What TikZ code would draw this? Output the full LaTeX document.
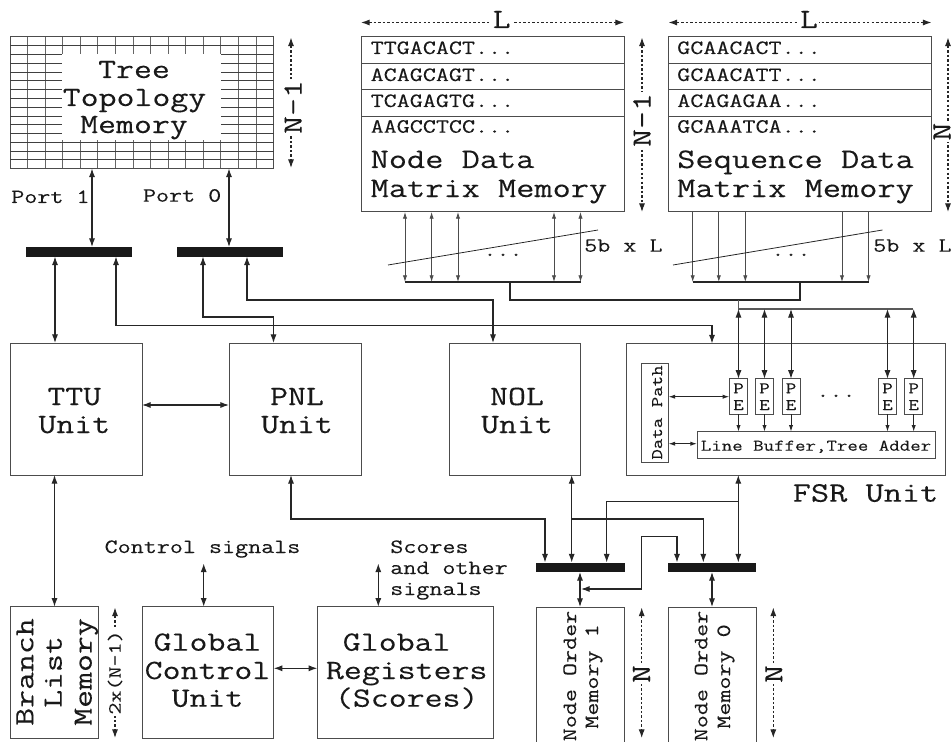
\documentclass[tikz,border=0pt]{standalone}
\usepackage{fontspec}
\setmonofont[FakeStretch=1.25,FakeBold=0.15]{Latin Modern Mono}
\usetikzlibrary{arrows.meta}
\newcommand\tf[1]{\fontsize{#1}{#1}\selectfont\ttfamily}
\newcommand\bx[7][]{%
  \pgfmathsetmacro\bxw{(#5-#3)*0.75}\pgfmathsetmacro\bxh{(#6-#4)*0.75}%
  \pgfmathsetmacro\bxx{(#3+#5)/2}\pgfmathsetmacro\bxy{(#4+#6)/2}%
  \node[rect,#1,minimum width=\bxw pt,minimum height=\bxh pt] (#2) at (\bxx,\bxy) {#7};}
\tikzset{
  rect/.style={draw=black!70,line width=0.75pt,inner sep=0pt,outer sep=0pt,fill=white},
  barnode/.style={fill=black!90,draw=none},
  conn/.style={draw=black!85,line width=0.85pt},
  fine/.style={draw=black!70,line width=0.6pt},
  aa/.style={{Latex[length=6.5pt,width=4.6pt]}-{Latex[length=6.5pt,width=4.6pt]}},
  ae/.style={-{Latex[length=6.5pt,width=4.6pt]}},
  fa/.style={{Latex[length=5pt,width=3.2pt]}-{Latex[length=5pt,width=3.2pt]}},
  fe/.style={-{Latex[length=5pt,width=3.2pt]}},
  dots/.style={draw=black!85,line width=0.8pt,dash pattern=on 1.8pt off 1.6pt,aa},
  big/.style={font=\tf{20.9},anchor=base,inner sep=0pt},
  bigl/.style={font=\tf{21.2},anchor=base west,inner sep=0pt},
  port/.style={font=\tf{15.2},anchor=base,inner sep=0pt},
  portl/.style={font=\tf{15.2},anchor=base west,inner sep=0pt},
  dimn/.style={font=\tf{20.9},fill=white,inner sep=1pt,rotate=90,anchor=base},
  diml/.style={font=\tf{20.9},fill=white,inner sep=1pt,anchor=base},
  small/.style={font=\tf{12.2},anchor=base,inner sep=0pt},
  rot/.style={rotate=90},
  every node/.append style={text=black!90}
}
\begin{document}
\begin{tikzpicture}[x=0.75pt,y=-0.75pt]
\useasboundingbox (0,0) rectangle (951,742);
\clip (0,0) rectangle (951,742);
% Tree memory
\bx{tree}{10}{37}{273.5}{168.5}{}
\foreach \i in {1,...,14} \draw[black!60,line width=0.6pt] (10+17.57*\i,37) -- (10+17.57*\i,168.5);
\foreach \i in {1,...,14} \draw[black!75,line width=0.6pt] (10,37+8.77*\i) -- (273.5,37+8.77*\i);
\node[fill=white,minimum width=119.25pt,minimum height=64.5pt,inner sep=0pt] (treew) at (141.5,97) {};
\node[big] (treet1) at (134,78) {Tree};
\node[big] (treet2) at (134.5,106) {Topology};
\node[big] (treet3) at (134,133) {Memory};
\coordinate (nt) at (291,37.5); \coordinate (nb) at (291,168);
\draw[dots] (nt) -- (nb);
\node[dimn] (n1a) at (301.7,107) {N-1};
\node[portl] (p1) at (11,203) {Port 1};
\node[portl] (p0) at (142.7,201.7) {Port 0};
\bx[barnode]{bar1}{26}{247}{132}{256.5}{}
\bx[barnode]{bar0}{177}{247}{283}{256.5}{}
% Main units
\bx{ttu}{10}{343}{142}{475}{}
\bx{pnl}{229}{343}{361}{475}{}
\bx{nol}{449}{343}{580}{475}{}
\bx{fsr}{626}{343.5}{945}{475}{}
\node[big] (ttua) at (74.3,405) {TTU};
\node[big] (ttub) at (74.3,433) {Unit};
\node[big] (pnla) at (297,405) {PNL};
\node[big] (pnlb) at (297,433) {Unit};
\node[big] (nola) at (517,405) {NOL};
\node[big] (nolb) at (517,433) {Unit};
\node[bigl] (fsrt) at (792.5,501.7) {FSR Unit};
% connectors top left
\draw[conn,aa] (tree.south -| 92,0) -- (bar1.north -| 92,0);
\draw[conn,aa] (tree.south -| 229,0) -- (bar0.north -| 229,0);
\draw[conn,aa] (bar1.south -| 55,0) -- (ttu.north -| 55,0);
\draw[conn,aa] (bar1.south -| 116,0) -- (116,325.5) -- (712,325.5) -- (fsr.north -| 712,0);
\draw[conn,aa] (bar0.south -| 203,0) -- (203,317) -- (273.5,317) -- (pnl.north -| 273.5,0);
\draw[conn,aa] (bar0.south -| 247,0) -- (247,300) -- (493,300) -- (nol.north -| 493,0);
\draw[conn,aa] (ttu.east |- 0,405) -- (pnl.west |- 0,405);
% Node Data memory
\bx{nd}{361}{37}{624}{212}{}
\draw[fine] (nd.west |- 0,63) -- (nd.east |- 0,63);
\draw[fine] (nd.west |- 0,89.5) -- (nd.east |- 0,89.5);
\draw[fine] (nd.west |- 0,116) -- (nd.east |- 0,116);
\node[portl] (nd1) at (370.4,54) {TTGACACT...};
\node[portl] (nd2) at (370.4,81) {ACAGCAGT...};
\node[portl] (nd3) at (370.4,107) {TCAGAGTG...};
\node[portl] (nd4) at (370.4,132.7) {AAGCCTCC...};
\node[bigl] (ndt1) at (370.4,168) {Node Data};
\node[bigl] (ndt2) at (370.4,197) {Matrix Memory};
% Sequence memory
\bx{sd}{668.5}{37}{931.5}{212}{}
\draw[fine] (sd.west |- 0,63) -- (sd.east |- 0,63);
\draw[fine] (sd.west |- 0,89.5) -- (sd.east |- 0,89.5);
\draw[fine] (sd.west |- 0,116) -- (sd.east |- 0,116);
\node[portl] (sd1) at (677,54) {GCAACACT...};
\node[portl] (sd2) at (677,81) {GCAACATT...};
\node[portl] (sd3) at (677,107) {ACAGAGAA...};
\node[portl] (sd4) at (677,132.7) {GCAAATCA...};
\node[bigl] (sdt1) at (677,168) {Sequence Data};
\node[bigl] (sdt2) at (677,197) {Matrix Memory};
% L dims
\coordinate (la) at (361,22.5); \coordinate (lb) at (624,22.5);
\coordinate (lc) at (668.5,22.5); \coordinate (ld) at (931.5,22.5);
\draw[dots] (la) -- (lb);
\draw[dots] (lc) -- (ld);
\node[diml] (l1) at (501.7,28) {L};
\node[diml] (l2) at (809,28) {L};
\coordinate (nc) at (642,37.5); \coordinate (nd') at (642,212);
\draw[dots] (nc) -- (nd');
\node[dimn] (n2) at (650.6,120) {N-1};
\coordinate (ne) at (948,37.5); \coordinate (nf) at (948,212);
\draw[dots] (ne) -- (nf);
\node[dimn] (n3) at (950.5,131.7) {N};
% Buses
\coordinate (busa) at (405,282); \coordinate (busb) at (580.5,282);
\coordinate (busc) at (692.7,282); \coordinate (busd) at (868.5,282);
\foreach \x in {405,431.6,458,554,580.5}
  \draw[fine,fa] (nd.south -| \x,0) -- (\x,282);
\foreach \x in {692.7,718.8,745.3,842,868.5}
  \draw[fine,fe] (sd.south -| \x,0) -- (\x,282);
\draw[conn,line width=0.8pt] (busa) -- (busb);
\draw[conn,line width=0.8pt] (busc) -- (busd);
\coordinate (da) at (388,265); \coordinate (db) at (598,230);
\coordinate (dc) at (673,265); \coordinate (dd) at (882.5,230);
\draw[conn,line width=0.6pt] (da) -- (db);
\draw[conn,line width=0.6pt] (dc) -- (dd);
\node[port] (d1) at (503,256) {...};
\node[port] (d2) at (791,256) {...};
\node[portl] (w1) at (584,251.7) {5b x L};
\node[portl] (w2) at (873,251.7) {5b x L};
\draw[conn,line width=1.1pt] (510,282) -- (510,300) -- (800,300) -- (800,282);
\draw[draw=black!65,line width=0.8pt] (738.3,300) -- (738.3,309) -- (913.3,309);
% FSR internals
\bx[fill=white]{dp}{641.5}{363}{668.5}{462.5}{}
\node[small,rot] (dpt) at (662,412.5) {Data Path};
\bx{lb}{697}{431.7}{935}{458}{}
\node[small] (lbt) at (816,450.7) {Line Buffer,Tree Adder};
\foreach \n/\a/\b in {pa/729.3/747.7,pb/755.3/773.7,pc/782/800,pd/878.3/896.7,pe/904.7/922.7}{
  \bx{\n}{\a}{378.7}{\b}{414.3}{}
  \pgfmathsetmacro\cx{(\a+\b)/2}
  \node[small] (\n t1) at (\cx,393.3) {P};
  \node[small] (\n t2) at (\cx,410) {E};
  \draw[conn,line width=0.75pt,aa] (\cx,309) -- (\n.north);
  \draw[conn,line width=0.75pt,fe] (\n.south) -- (lb.north -| \n.south);
}
\node[port] (pdots) at (836,397) {...};
\draw[conn,line width=0.75pt,fa] (dp.east |- 0,396.7) -- (pa.west |- 0,396.7);
\draw[conn,line width=0.75pt,fa] (dp.east |- 0,443.7) -- (lb.west |- 0,443.7);
% Bars lower
\bx[barnode]{bar2}{536}{562.5}{625}{572}{}
\bx[barnode]{bar3}{667.7}{562.5}{756.3}{572}{}
\draw[conn,aa] (fsr.south -| 738.3,0) -- (bar3.north -| 738.3,0);
\draw[conn,ae] (738.3,501.7) -- (606.7,501.7) -- (bar2.north -| 606.7,0);
\draw[conn,aa] (nol.south -| 571.7,0) -- (bar2.north -| 571.7,0);
\draw[conn,ae] (571.7,519) -- (703.3,519) -- (bar3.north -| 703.3,0);
\draw[conn,aa] (pnl.south -| 291,0) -- (291,519) -- (545,519) -- (bar2.north -| 545,0);
% Node Order memories
\bx{nom1}{536.3}{607}{624.7}{760}{}
\bx{nom0}{668.3}{607}{756.3}{760}{}
\node[port,rot] (no1a) at (576,676) {Node Order};
\node[port,rot] (no1b) at (598,676.5) {Memory 1};
\node[port,rot] (no0a) at (707.3,676) {Node Order};
\node[port,rot] (no0b) at (730,676.5) {Memory 0};
\draw[conn,aa] (bar2.south -| 580,0) -- (nom1.north -| 580,0);
\draw[conn,aa] (bar3.south -| 712,0) -- (nom0.north -| 712,0);
\draw[conn,aa] (581,589) -- (641.7,589) -- (641.7,536.7) -- (677,536.7) -- (bar3.north -| 677,0);
\coordinate (ng) at (641.7,607.5); \coordinate (nh) at (641.7,738);
\coordinate (ni) at (773.3,607.5); \coordinate (nj) at (773.3,738);
\draw[dots] (ng) -- (nh);
\draw[dots] (ni) -- (nj);
\node[dimn] (n4) at (650,674) {N};
\node[dimn] (n5) at (782.3,674) {N};
% Bottom row
\bx{blm}{10.5}{606.7}{98.5}{738}{}
\node[big,rot] (bl1) at (33.3,672) {Branch};
\node[big,rot] (bl2) at (61.7,672) {List};
\node[big,rot] (bl3) at (91.7,672) {Memory};
\draw[conn,aa] (ttu.south -| 54.5,0) -- (blm.north -| 54.5,0);
\coordinate (tk) at (115,607.5); \coordinate (tl) at (115,738);
\draw[dots] (tk) -- (tl);
\node[port,rot,fill=white,inner sep=1pt,font=\tf{14}] (t2) at (120.7,672.5) {2x(N-1)};
\bx{gcu}{142}{606.7}{273.7}{738}{}
\node[big] (gc1) at (207.5,650.7) {Global};
\node[big] (gc2) at (207.5,679) {Control};
\node[big] (gc3) at (207.5,706.7) {Unit};
\bx{gr}{317.3}{606.7}{493}{738}{}
\node[big] (gr1) at (396.7,650.7) {Global};
\node[big] (gr2) at (406.7,679) {Registers};
\node[big] (gr3) at (406.7,706.7) {(Scores)};
\draw[conn,aa] (gcu.east |- 0,668.3) -- (gr.west |- 0,668.3);
\coordinate (cs) at (203.7,563.5); \coordinate (ss) at (378.3,563.5);
\draw[conn,aa] (cs) -- (gcu.north -| cs);
\draw[conn,aa] (ss) -- (gr.north -| ss);
\node[port] (cst) at (202.5,553) {Control signals};
\node[portl] (s1) at (390,553) {Scores};
\node[portl] (s2) at (390,574) {and other};
\node[portl] (s3) at (390,595) {signals};
\end{tikzpicture}
\end{document}
